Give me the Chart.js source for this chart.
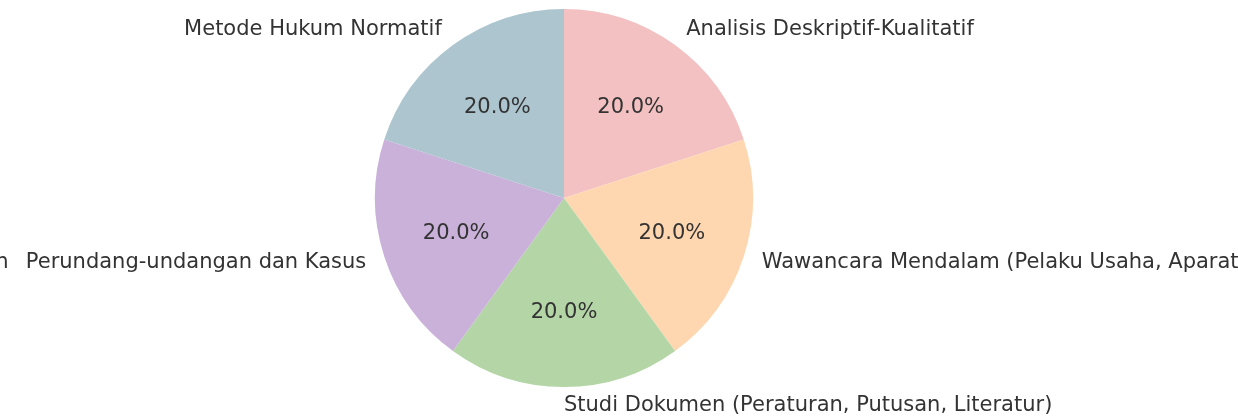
<!DOCTYPE html>
<html>
<head>
<meta charset="utf-8">
<script src="https://cdn.jsdelivr.net/npm/chart.js@4.4.0/dist/chart.umd.min.js"></script>
<style>
  html, body { margin: 0; padding: 0; background: #fff; }
  #wrap { width: 1238px; height: 417px; }
</style>
</head>
<body>
<div id="wrap"><canvas id="pie"></canvas></div>
<script>
// clockwise from the top, as Chart.js draws
var labels = [
    'Analisis Deskriptif-Kualitatif',
    'Wawancara Mendalam (Pelaku Usaha, Aparat Penegak Hukum)',
    'Studi Dokumen (Peraturan, Putusan, Literatur)',
    'Analisis Peraturan\u2002 Perundang-undangan dan Kasus',
    'Metode Hukum Normatif'
];
var values = [20, 20, 20, 20, 20];
var colors = ['#f3c1c2', '#fed7b0', '#b4d6a7', '#cab1da', '#adc5cf'];

var textColor = '#333333';
var fontSpec = '21px "DejaVu Sans"';

// draws the outer labels and the percentages like matplotlib's autopct
var pieLabels = {
    id: 'pieLabels',
    afterDatasetsDraw: function(chart) {
        var ctx = chart.ctx;
        var meta = chart.getDatasetMeta(0);
        var total = values.reduce(function(a, b) { return a + b; }, 0);
        ctx.save();
        ctx.font = fontSpec;
        ctx.fillStyle = textColor;
        ctx.textBaseline = 'middle';
        meta.data.forEach(function(arc, i) {
            var p = arc.getProps(['x', 'y', 'startAngle', 'endAngle', 'outerRadius']);
            var mid = (p.startAngle + p.endAngle) / 2;
            var c = Math.cos(mid), s = Math.sin(mid);
            // percentage
            ctx.textAlign = 'center';
            var pct = (values[i] / total * 100).toFixed(1) + '%';
            ctx.fillText(pct, p.x + c * p.outerRadius * 0.6, p.y + s * p.outerRadius * 0.6 + 1);
            // label
            ctx.textAlign = c > -0.01 ? 'left' : 'right';
            ctx.fillText(labels[i], p.x + c * p.outerRadius * 1.1, p.y + s * p.outerRadius * 1.1);
        });
        ctx.restore();
    }
};

new Chart(document.getElementById('pie'), {
    type: 'pie',
    data: {
        labels: labels,
        datasets: [{
            data: values,
            backgroundColor: colors,
            borderWidth: 0
        }]
    },
    options: {
        responsive: true,
        maintainAspectRatio: false,
        animation: false,
        layout: { padding: { top: 9, bottom: 30, left: 375, right: 485 } },
        plugins: {
            legend: { display: false },
            tooltip: { enabled: false }
        }
    },
    plugins: [pieLabels]
});
</script>
</body>
</html>
